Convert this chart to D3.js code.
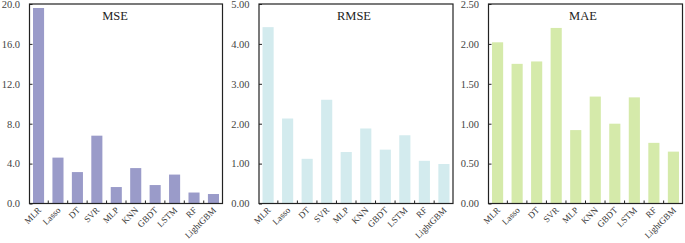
<!DOCTYPE html>
<html>
<head>
<meta charset="utf-8">
<script src="https://cdn.jsdelivr.net/npm/d3@7"></script>
<style>
  body { margin: 0; background: #fff; }
  svg { display: block; }
</style>
</head>
<body>
<div id="container"></div>
<script>
let w = 685;
let h = 243;

// DATA
let models = ["MLR", "Lasso", "DT", "SVR", "MLP", "KNN", "GBDT", "LSTM", "RF", "LightGBM"];
let mseValues  = [19.6, 4.6, 3.15, 6.8, 1.65, 3.55, 1.85, 2.9, 1.1, 0.95];
let rmseValues = [4.42, 2.13, 1.12, 2.60, 1.29, 1.88, 1.35, 1.71, 1.07, 0.99];
let maeValues  = [2.02, 1.75, 1.78, 2.20, 0.92, 1.34, 1.00, 1.33, 0.76, 0.65];
let mseTicks  = [0, 4, 8, 12, 16, 20];
let rmseTicks = [0, 1, 2, 3, 4, 5];
let maeTicks  = [0, 0.5, 1, 1.5, 2, 2.5];
let titles = ["MSE", "RMSE", "MAE"];

// panel boxes (left, right) and styling
let panels = [
  {title: titles[0], values: mseValues,  ticks: mseTicks,  fmt: ".1f", max: 20,  left: 29.5,  right: 222.5, color: "#9a9bc9", titleX: 115},
  {title: titles[1], values: rmseValues, ticks: rmseTicks, fmt: ".2f", max: 5,   left: 259,   right: 453,   color: "#d3ebee", titleX: 354},
  {title: titles[2], values: maeValues,  ticks: maeTicks,  fmt: ".2f", max: 2.5, left: 488.5, right: 682.5, color: "#d5eaaa", titleX: 583}
];
let plotTop = 4;
let plotBottom = 203.5;

let viz = d3.select("#container").append("svg")
    .attr("width", w)
    .attr("height", h)
    .style("font-family", "'Liberation Serif', 'Times New Roman', serif");

panels.forEach(function(p){
  let g = viz.append("g");

  let xScale = d3.scaleBand().domain(models).range([p.left, p.right])
      .paddingInner(0.43).paddingOuter(0.18);
  let yScale = d3.scaleLinear().domain([0, p.max]).range([plotBottom, plotTop]);

  // bars
  g.selectAll(".bar").data(p.values).enter()
    .append("rect")
      .attr("class", "bar")
      .attr("x", function(d, i){ return xScale(models[i]); })
      .attr("y", function(d){ return yScale(d); })
      .attr("width", xScale.bandwidth())
      .attr("height", function(d){ return yScale(0) - yScale(d); })
      .attr("fill", p.color);

  // y axis (ticks inward)
  let yAxis = d3.axisLeft(yScale).tickValues(p.ticks).tickFormat(d3.format(p.fmt))
      .tickSizeInner(-3).tickSizeOuter(0).tickPadding(9.5);
  let yG = g.append("g").attr("transform", "translate(" + p.left + ",0)").call(yAxis);
  yG.select(".domain").remove();
  yG.attr("font-family", null).attr("font-size", null);
  yG.selectAll("text").attr("font-size", 10.5).attr("fill", "#444");
  yG.selectAll("line").attr("stroke", "#222");

  // x axis ticks at category boundaries, pointing up
  let step = xScale.step();
  let boundaries = models.slice(0, models.length - 1).map(function(m){
    return xScale(m) + xScale.bandwidth() + (step - xScale.bandwidth()) / 2;
  });
  g.selectAll(".xtick").data(boundaries).enter()
    .append("line")
      .attr("class", "xtick")
      .attr("x1", function(d){ return d; })
      .attr("x2", function(d){ return d; })
      .attr("y1", plotBottom)
      .attr("y2", plotBottom - 3)
      .attr("stroke", "#222");

  // x labels, rotated
  g.selectAll(".xlabel").data(models).enter()
    .append("text")
      .attr("class", "xlabel")
      .attr("transform", function(d){
        return "translate(" + (xScale(d) + xScale.bandwidth() / 2 + 1) + "," + (plotBottom + 5) + ") rotate(-45)";
      })
      .attr("text-anchor", "end")
      .attr("dy", "0.35em")
      .attr("font-size", 9)
      .attr("fill", "#333")
      .text(function(d){ return d; });

  // frame
  g.append("rect")
    .attr("x", p.left)
    .attr("y", plotTop)
    .attr("width", p.right - p.left)
    .attr("height", plotBottom - plotTop)
    .attr("fill", "none")
    .attr("stroke", "#222")
    .attr("stroke-width", 1.2);

  // title
  g.append("text")
    .attr("x", p.titleX)
    .attr("y", 19.5)
    .attr("text-anchor", "middle")
    .attr("font-size", 12.5)
    .attr("fill", "#222")
    .text(p.title);
});
</script>
</body>
</html>
